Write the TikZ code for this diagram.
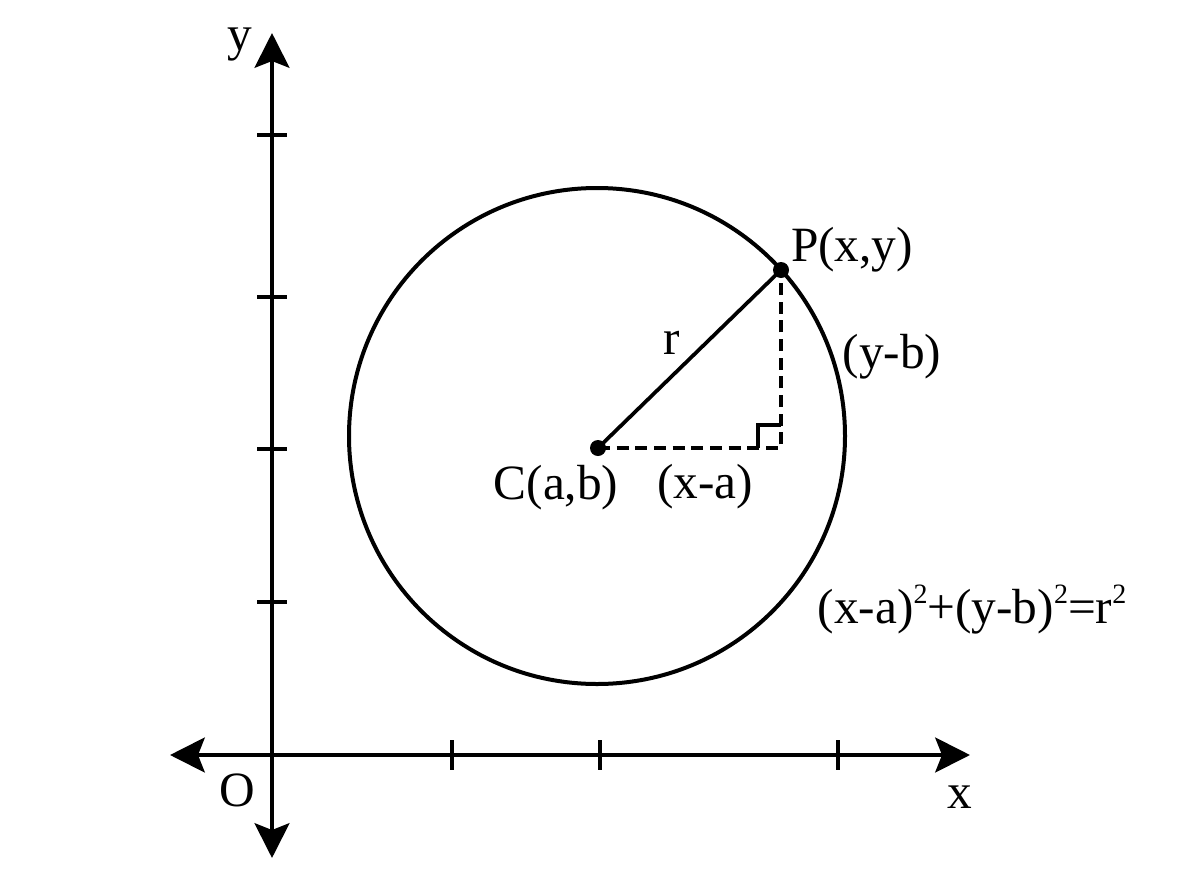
\documentclass[tikz,border=0pt]{standalone}
\usepackage{fontspec}
\setmainfont{Liberation Serif}
\usetikzlibrary{arrows.meta,positioning,calc}

\newcommand{\sqtwo}{\raisebox{15pt}{\fontsize{21}{21}\selectfont 2}}

\tikzset{
  axis/.style={line width=3.6pt,
    {Stealth[length=26pt,width=26pt,inset=5pt]}-{Stealth[length=26pt,width=26pt,inset=5pt]}},
  tickmark/.style={line width=3pt},
  curve/.style={line width=3pt},
  dot/.style={circle,fill,inner sep=0pt,minimum size=12pt},
  lbl/.style={font=\fontsize{37}{40}\selectfont,inner sep=0pt}
}

\begin{document}
\begin{tikzpicture}[x=0.75pt,y=-0.75pt]
\useasboundingbox (0,0) rectangle (1200,896);
% axes
\coordinate (O) at (272,755);
\coordinate (ytop) at (272,33);
\coordinate (ybot) at (272,858);
\coordinate (xleft) at (170,755);
\coordinate (xright) at (970,755);
\draw[axis] (ybot) -- (ytop);
\draw[axis] (xleft) -- (xright);
\foreach \ty in {135,297,449,602}
  \draw[tickmark] (257,\ty) -- (287,\ty);
\foreach \tx in {452,600,838}
  \draw[tickmark] (\tx,740) -- (\tx,770);
\node[lbl] (ylabel) at (240,45) {y};
\node[lbl] (xlabel) at (960,797) {x};
\node[lbl] (olabel) at (237,790) {O};

% circle and radius
\coordinate (M) at (597,436);
\draw[curve] (M) circle[radius=248];
\coordinate (C) at (598,448);
\coordinate (P) at (781,270);
\coordinate (F) at (P |- C);
\draw[curve,line width=2.8pt] (C) -- (P);
\draw[curve,line width=2.8pt,dash pattern=on 9pt off 5pt] (C) -- (F) -- (P);
\draw[line width=2.6pt] ($(F)+(-23,0)$) |- ($(F)+(0,-23)$);
\node[dot] (Cdot) at (C) {};
\node[dot] (Pdot) at (P) {};

% labels
\node[lbl] (Plabel) at (852,250) {P(x,y)};
\node[lbl] (rlabel) at (672,343) {r};
\node[lbl] (yblabel) at (892,357) {(y-b)};
\node[lbl] (Clabel) at (556,488) {C(a,b)};
\node[lbl] (xalabel) at (705,487) {(x-a)};
\node[lbl] (eqlabel) at (972,610) {(x-a)\sqtwo+(y-b)\sqtwo=r\sqtwo};
\end{tikzpicture}
\end{document}
